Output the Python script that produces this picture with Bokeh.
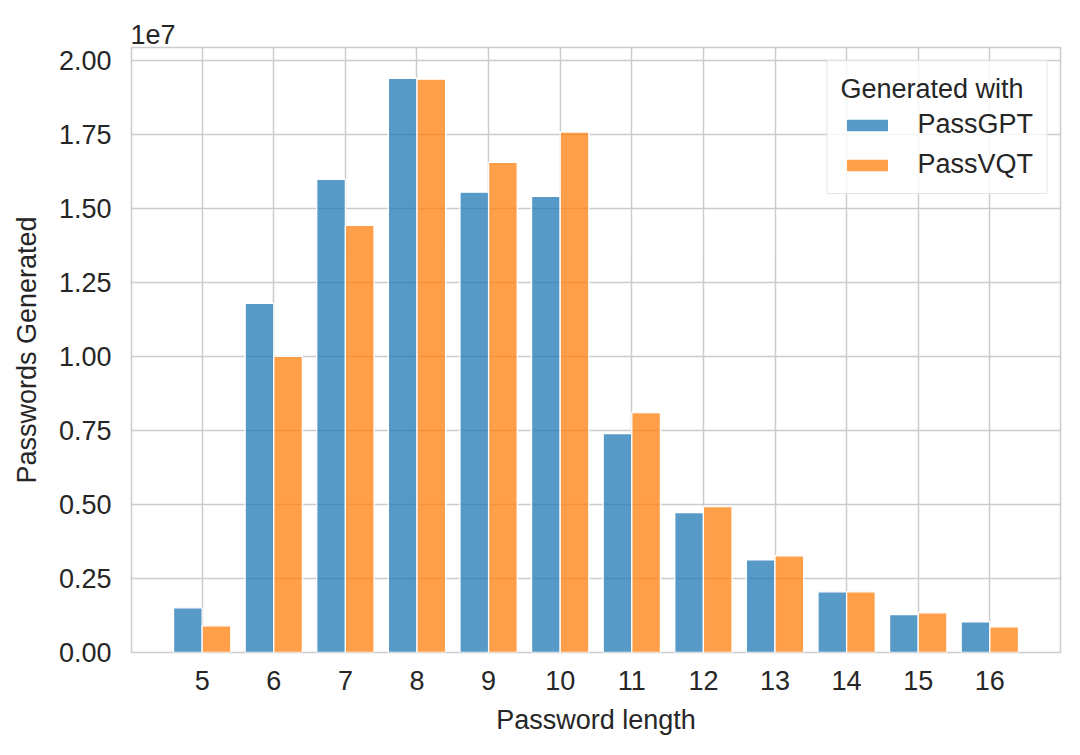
from bokeh.plotting import figure
from bokeh.models import (ColumnDataSource, Range1d, FixedTicker, CustomJSTickFormatter,
                          Legend, LegendItem)
from bokeh.embed import file_html
from bokeh.resources import INLINE

# ---- data ----
lengths = [5, 6, 7, 8, 9, 10, 11, 12, 13, 14, 15, 16]
passgpt = [1510000, 11800000, 15990000, 19410000, 15560000, 15420000,
           7400000, 4730000, 3130000, 2050000, 1280000, 1040000]
passvqt = [900000, 10010000, 14440000, 19380000, 16570000, 17590000,
           8110000, 4930000, 3270000, 2050000, 1340000, 870000]
series_names = ["PassGPT", "PassVQT"]
y_ticks = [0, 2500000, 5000000, 7500000, 10000000, 12500000, 15000000, 17500000, 20000000]

FONT = "Liberation Sans"
TXT = "#262626"
GRID = "#cccccc"
FS = "27px"

bar_w = 0.4
src = ColumnDataSource(dict(
    xg=[l - bar_w / 2 for l in lengths],
    xv=[l + bar_w / 2 for l in lengths],
    gpt=passgpt, vqt=passvqt,
))

p = figure(width=1072, height=747, output_backend="svg", toolbar_location=None,
           x_range=Range1d(4.013, 16.987), y_range=Range1d(0, 20450000),
           min_border_left=131, min_border_right=12, min_border_top=47, min_border_bottom=95)

r1 = p.vbar(x="xg", top="gpt", width=bar_w, source=src, fill_color="#1f77b4", fill_alpha=0.75,
            line_color="white", line_width=1.3)
r2 = p.vbar(x="xv", top="vqt", width=bar_w, source=src, fill_color="#ff7f0e", fill_alpha=0.75,
            line_color="white", line_width=1.3)

p.background_fill_color = "white"
p.border_fill_color = "white"
p.outline_line_color = GRID
p.outline_line_width = 1.5

for g in (p.xgrid, p.ygrid):
    g.grid_line_color = GRID
    g.grid_line_width = 1.5

p.xaxis.ticker = FixedTicker(ticks=lengths)
p.yaxis.ticker = FixedTicker(ticks=y_ticks)
p.yaxis.formatter = CustomJSTickFormatter(code="return (tick/1e7).toFixed(2);")

for ax in (p.xaxis[0], p.yaxis[0]):
    ax.axis_line_color = None
    ax.major_tick_line_color = None
    ax.minor_tick_line_color = None
    ax.major_tick_out = 0
    ax.major_tick_in = 0
    ax.major_label_text_font = FONT
    ax.major_label_text_font_size = FS
    ax.major_label_text_color = TXT
    ax.axis_label_text_font = FONT
    ax.axis_label_text_font_size = FS
    ax.axis_label_text_font_style = "normal"
    ax.axis_label_text_color = TXT

p.xaxis.axis_label = "Password length"
p.yaxis.axis_label = "Passwords Generated"
p.xaxis.major_label_standoff = 18
p.yaxis.major_label_standoff = 20
p.xaxis.axis_label_standoff = 12
p.yaxis.axis_label_standoff = 14

# offset text of the y axis (matplotlib style "1e7")
p.title.text = "1e7"
p.title.align = "left"
p.title.offset = -1
p.title.standoff = 7
p.title.text_font = FONT
p.title.text_font_size = FS
p.title.text_font_style = "normal"
p.title.text_color = TXT

legend = Legend(items=[LegendItem(label=series_names[0], renderers=[r1]),
                       LegendItem(label=series_names[1], renderers=[r2])],
                title="Generated with", location="top_right")
legend.title_text_font = FONT
legend.title_text_font_size = FS
legend.title_text_font_style = "normal"
legend.title_text_color = TXT
legend.title_standoff = 4
legend.label_text_font = FONT
legend.label_text_font_size = FS
legend.label_text_color = TXT
legend.glyph_width = 53
legend.glyph_height = 16
legend.label_standoff = 24
legend.spacing = 9
legend.padding = 13
legend.margin = 13
legend.border_line_color = GRID
legend.border_line_width = 1.5
legend.background_fill_alpha = 0.8
p.add_layout(legend)

open("out.html", "w").write(file_html(p, INLINE))
